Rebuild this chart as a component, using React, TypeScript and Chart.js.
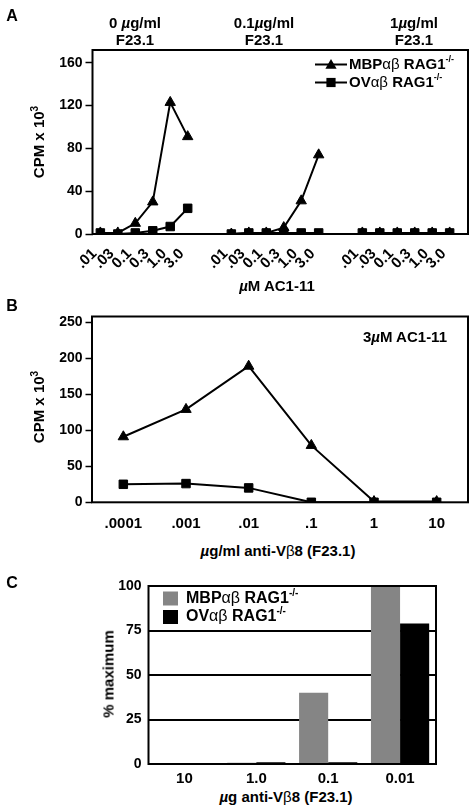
import React, { useEffect, useRef } from 'react';
import { Chart, registerables } from 'chart.js';

Chart.register(...registerables);

const FONT = '"Liberation Sans", Arial, Helvetica, sans-serif';

// ---------------- data ----------------
const seriesNames = ['MBP', 'OV'];

// Panel A : CPM x 10^3 vs µM AC1-11, three F23.1 levels
const concLabels = ['.01', '.03', '0.1', '0.3', '1.0', '3.0'];
const f23Levels = ['0 µg/ml', '0.1µg/ml', '1µg/ml'];
const mbpA_f0 = [1, 1, 10, 30, 123, 91];
const mbpA_f01 = [0, 1, 1, 6, 31, 74];
const mbpA_f1 = [1, 1, 1, 1, 1, 1];
const ovA_f0 = [1, 0, 1, 3, 7, 24];
const ovA_f01 = [0, 1, 1, 1, 1, 1];
const ovA_f1 = [1, 1, 1, 1, 1, 1];
const yTicksA = [0, 40, 80, 120, 160];
const yMaxA = 172;

// Panel B : CPM x 10^3 vs µg/ml anti-Vb8, 3µM AC1-11
const antiLabelsB = ['.0001', '.001', '.01', '.1', '1', '10'];
const mbpB = [91, 129, 189, 79, 1, 1];
const ovB = [25, 26, 20, 0, 0, 0];
const yTicksB = [0, 50, 100, 150, 200, 250];
const yMaxB = 258;

// Panel C : % maximum vs µg anti-Vb8
const antiLabelsC = ['10', '1.0', '0.1', '0.01'];
const mbpC = [0.6, 0.7, 40, 100];
const ovC = [0.6, 1, 1, 79];
const yTicksC = [0, 25, 50, 75, 100];

// position of each concentration group on the linear x axis of panel A
const GROUP_START = [0, 7.5, 15];

function groupPoints(groups: number[][]) {
  const pts: { x: number; y: number | null }[] = [];
  groups.forEach((g, gi) => {
    g.forEach((v, i) => pts.push({ x: GROUP_START[gi] + i, y: v }));
    if (gi < groups.length - 1) pts.push({ x: GROUP_START[gi] + 5.7, y: null });
  });
  return pts;
}

const tickPosA = GROUP_START.flatMap((s) => concLabels.map((_, i) => s + i));
const tickLabelsA = GROUP_START.flatMap(() => concLabels);

const tickFont = (size: number) => ({ family: FONT, size, weight: 'bold' as const });

type Part = { text: string; font: string; dy?: number };
function drawParts(ctx: CanvasRenderingContext2D, x: number, y: number, parts: Part[]) {
  let cx = x;
  for (const p of parts) {
    ctx.font = p.font;
    ctx.fillText(p.text, cx, y + (p.dy || 0));
    cx += ctx.measureText(p.text).width;
  }
}
function seriesParts(name: string, size: number): Part[] {
  return [
    { text: name, font: `bold ${size}px ${FONT}` },
    { text: 'αβ', font: `normal ${size}px ${FONT}` },
    { text: ' RAG1', font: `bold ${size}px ${FONT}` },
    { text: '-/-', font: `bold ${Math.round(size * 0.62)}px ${FONT}`, dy: -size * 0.33 },
  ];
}
function drawMarker(ctx: CanvasRenderingContext2D, style: string, x: number, y: number, r: number) {
  ctx.beginPath();
  if (style === 'triangle') {
    const s = Math.sin(Math.PI / 3) * r;
    ctx.moveTo(x, y - r);
    ctx.lineTo(x + s, y + r / 2);
    ctx.lineTo(x - s, y + r / 2);
  } else {
    const h = r * Math.SQRT1_2;
    ctx.rect(x - h, y - h, 2 * h, 2 * h);
  }
  ctx.closePath();
  ctx.fill();
}

const frame = (after: boolean) => {
  const draw = (chart: any) => {
    const { ctx, chartArea: a } = chart;
    ctx.save();
    ctx.strokeStyle = '#000';
    ctx.lineWidth = 2;
    ctx.strokeRect(a.left, a.top, a.right - a.left, a.bottom - a.top);
    ctx.restore();
  };
  return after
    ? { id: 'frameAfter', afterDatasetsDraw: draw }
    : { id: 'frameBefore', beforeDatasetsDraw: draw };
};

const legendA = {
  id: 'legendA',
  afterDraw(chart: any) {
    const ctx = chart.ctx as CanvasRenderingContext2D;
    ctx.save();
    ctx.fillStyle = '#000';
    ctx.strokeStyle = '#000';
    ctx.textBaseline = 'middle';
    const rows = [
      { y: 64.5, style: 'triangle', name: seriesNames[0] },
      { y: 82.5, style: 'rect', name: seriesNames[1] },
    ];
    rows.forEach((r) => {
      ctx.lineWidth = 2;
      ctx.beginPath();
      ctx.moveTo(315, r.y);
      ctx.lineTo(347, r.y);
      ctx.stroke();
      drawMarker(ctx, r.style, 331, r.y + (r.style === 'triangle' ? 1 : 0), 6.5);
      drawParts(ctx, 349, r.y, seriesParts(r.name, 15));
    });
    ctx.restore();
  },
};

const legendC = {
  id: 'legendC',
  afterDraw(chart: any) {
    const ctx = chart.ctx as CanvasRenderingContext2D;
    ctx.save();
    ctx.textBaseline = 'middle';
    const rows = [
      { y: 38.5, color: '#858585', name: seriesNames[0] },
      { y: 57, color: '#000', name: seriesNames[1] },
    ];
    rows.forEach((r) => {
      ctx.fillStyle = r.color;
      ctx.fillRect(163, r.y - 7, 15, 14);
      ctx.fillStyle = '#000';
      drawParts(ctx, 186, r.y, seriesParts(r.name, 16));
    });
    ctx.restore();
  },
};

const lineDs = (label: string, data: any, style: string) => ({
  label,
  data,
  borderColor: '#000',
  backgroundColor: '#000',
  borderWidth: 2,
  pointStyle: style,
  pointRadius: 6,
  pointBorderWidth: 1,
  pointBackgroundColor: '#000',
  pointBorderColor: '#000',
  spanGaps: false,
  tension: 0,
});

const yAxisLine = (ticks: number[], max: number, width: number, tickLen: number) => ({
  min: 0,
  max,
  afterBuildTicks: (s: any) => {
    s.ticks = ticks.map((v) => ({ value: v }));
  },
  afterFit: (s: any) => {
    s.width = width;
  },
  grid: {
    drawOnChartArea: false,
    drawTicks: true,
    tickLength: tickLen,
    tickColor: '#000',
    tickWidth: 1.5,
    color: '#000',
  },
  border: { display: false },
  ticks: { padding: 3, color: '#000', font: tickFont(14) },
});

function mu(text: string) {
  const parts = text.split('µ');
  const out: any[] = [];
  parts.forEach((p, i) => {
    if (i > 0) out.push(<span key={'m' + i} style={{ fontStyle: 'italic' }}>µ</span>);
    out.push(<span key={'t' + i}>{p}</span>);
  });
  return out;
}

const abs = (extra: any) => ({ position: 'absolute' as const, whiteSpace: 'nowrap' as const, ...extra });

export default function App() {
  const refA = useRef<HTMLCanvasElement>(null);
  const refB = useRef<HTMLCanvasElement>(null);
  const refC = useRef<HTMLCanvasElement>(null);

  useEffect(() => {
    const charts: Chart[] = [];

    charts.push(
      new Chart(refA.current!, {
        type: 'line',
        data: {
          datasets: [
            lineDs('MBPαβ RAG1-/-', groupPoints([mbpA_f0, mbpA_f01, mbpA_f1]), 'triangle'),
            lineDs('OVαβ RAG1-/-', groupPoints([ovA_f0, ovA_f01, ovA_f1]), 'rect'),
          ] as any,
        },
        options: {
          animation: false,
          responsive: true,
          maintainAspectRatio: false,
          layout: { padding: { top: 50, right: 4.5, left: 0, bottom: 0 } },
          plugins: { legend: { display: false }, tooltip: { enabled: false } },
          scales: {
            x: {
              type: 'linear',
              min: -0.45,
              max: 21.05,
              grid: { display: false, drawTicks: false },
              border: { display: false },
              afterBuildTicks: (s: any) => {
                s.ticks = tickPosA.map((v) => ({ value: v }));
              },
              afterFit: (s: any) => {
                s.height = 66;
              },
              ticks: {
                autoSkip: false,
                minRotation: 45,
                maxRotation: 45,
                padding: 11,
                labelOffset: -6,
                color: '#000',
                font: tickFont(15),
                callback: (_v: any, i: number) => tickLabelsA[i],
              },
            },
            y: yAxisLine(yTicksA, yMaxA, 92.5, 7) as any,
          },
        },
        plugins: [frame(false), legendA],
      })
    );

    charts.push(
      new Chart(refB.current!, {
        type: 'line',
        data: {
          labels: antiLabelsB,
          datasets: [
            lineDs('MBPαβ RAG1-/-', mbpB, 'triangle'),
            lineDs('OVαβ RAG1-/-', ovB, 'rect'),
          ] as any,
        },
        options: {
          animation: false,
          responsive: true,
          maintainAspectRatio: false,
          layout: { padding: { top: 16.5, right: 7, left: 0, bottom: 0 } },
          plugins: { legend: { display: false }, tooltip: { enabled: false } },
          scales: {
            x: {
              type: 'category',
              offset: true,
              grid: { display: false, drawTicks: false },
              border: { display: false },
              afterFit: (s: any) => {
                s.height = 27.7;
              },
              ticks: { autoSkip: false, maxRotation: 0, padding: 13, color: '#000', font: tickFont(15) },
            },
            y: yAxisLine(yTicksB, yMaxB, 92, 6.5) as any,
          },
        },
        plugins: [frame(false)],
      })
    );

    charts.push(
      new Chart(refC.current!, {
        type: 'bar',
        data: {
          labels: antiLabelsC,
          datasets: [
            {
              label: 'MBPαβ RAG1-/-',
              data: mbpC,
              backgroundColor: '#858585',
              borderWidth: 0,
              categoryPercentage: 0.81,
              barPercentage: 1,
            },
            {
              label: 'OVαβ RAG1-/-',
              data: ovC,
              backgroundColor: '#000',
              borderWidth: 0,
              categoryPercentage: 0.81,
              barPercentage: 1,
            },
          ],
        },
        options: {
          animation: false,
          responsive: true,
          maintainAspectRatio: false,
          layout: { padding: { top: 26, right: 39, left: 0, bottom: 0 } },
          plugins: { legend: { display: false }, tooltip: { enabled: false } },
          scales: {
            x: {
              grid: { display: false, drawTicks: false },
              border: { display: false },
              afterFit: (s: any) => {
                s.height = 21;
              },
              ticks: { autoSkip: false, maxRotation: 0, padding: 6, color: '#000', font: tickFont(15) },
            },
            y: {
              min: 0,
              max: 100,
              afterBuildTicks: (s: any) => {
                s.ticks = yTicksC.map((v) => ({ value: v }));
              },
              afterFit: (s: any) => {
                s.width = 148.5;
              },
              grid: {
                drawTicks: false,
                lineWidth: 2,
                color: (c: any) =>
                  c.tick && c.tick.value > 0 && c.tick.value < 100 ? '#000' : 'rgba(0,0,0,0)',
              },
              border: { display: false },
              ticks: { padding: 7, color: '#000', font: tickFont(14) },
            },
          },
        },
        plugins: [frame(true), legendC],
      })
    );

    return () => charts.forEach((c) => c.destroy());
  }, []);

  const headerCenters = [135, 264, 414];
  const text = { fontFamily: FONT, fontWeight: 'bold' as const, color: '#000', fontSize: 15, lineHeight: '17px' };
  const supStyle = { fontSize: 10, verticalAlign: 'super', lineHeight: 0 } as const;
  const rotCenter = (cx: number, cy: number) =>
    abs({ left: cx, top: cy, transform: 'translate(-50%, -50%) rotate(-90deg)' });
  const center = (cx: number, cy: number) => abs({ left: cx, top: cy, transform: 'translate(-50%, -50%)' });

  return (
    <div style={{ position: 'absolute', left: 0, top: 0, width: 475, height: 811, background: '#fff', ...text }}>
      <div style={{ position: 'absolute', left: 0, top: 0, width: 475, height: 300 }}>
        <canvas ref={refA} />
      </div>
      <div style={{ position: 'absolute', left: 0, top: 300, width: 475, height: 230 }}>
        <canvas ref={refB} />
      </div>
      <div style={{ position: 'absolute', left: 0, top: 560, width: 475, height: 225 }}>
        <canvas ref={refC} />
      </div>

      {/* Panel A */}
      <div style={{ ...center(12, 15), fontSize: 16 }}>A</div>
      {f23Levels.map((h, i) => (
        <div key={h} style={abs({ left: headerCenters[i] - 60, top: 14, width: 120, textAlign: 'center' })}>
          {mu(h)}
          <br />
          F23.1
        </div>
      ))}
      <div style={rotCenter(38, 141.5)}>
        CPM x 10<sup style={supStyle}>3</sup>
      </div>
      <div style={center(277, 285)}>{mu('µM AC1-11')}</div>

      {/* Panel B */}
      <div style={{ ...center(12, 305), fontSize: 16 }}>B</div>
      <div style={center(405, 336)}>{mu('3µM AC1-11')}</div>
      <div style={rotCenter(38, 407)}>
        CPM x 10<sup style={supStyle}>3</sup>
      </div>
      <div style={center(278, 550)}>
        {mu('µg/ml anti-V')}
        <span style={{ fontWeight: 'normal' }}>β</span>8 (F23.1)
      </div>

      {/* Panel C */}
      <div style={{ ...center(12, 582), fontSize: 16 }}>C</div>
      <div style={rotCenter(108, 674)}>% maximum</div>
      <div style={center(286, 796)}>
        {mu('µg anti-V')}
        <span style={{ fontWeight: 'normal' }}>β</span>8 (F23.1)
      </div>
    </div>
  );
}
